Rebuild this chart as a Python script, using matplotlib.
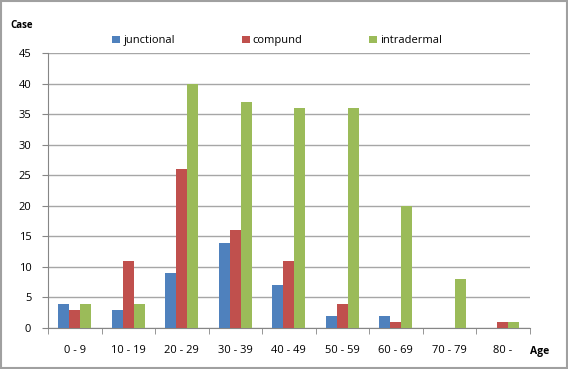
import matplotlib
matplotlib.use("Agg")
import matplotlib.pyplot as plt
import numpy as np

categories = ["0 - 9", "10 - 19", "20 - 29", "30 - 39", "40 - 49", "50 - 59", "60 - 69", "70 - 79", "80 -"]
junctional = [4, 3, 9, 14, 7, 2, 2, 0, 0]
compund = [3, 11, 26, 16, 11, 4, 1, 0, 1]
intradermal = [4, 4, 40, 37, 36, 36, 20, 8, 1]
series_names = ["junctional", "compund", "intradermal"]
colors = ["#4F81BD", "#C0504D", "#9BBB59"]

plt.rcParams['font.family'] = ['Open Sans', 'DejaVu Sans']

fig = plt.figure(figsize=(5.68, 3.69), dpi=100)
ax = fig.add_axes([0.0845, 0.111, 0.848, 0.745])

x = np.arange(len(categories))
w = 0.205
for i, (vals, name, c) in enumerate(zip([junctional, compund, intradermal], series_names, colors)):
    ax.bar(x + (i - 1) * w, vals, width=w, color=c, label=name, zorder=3)

ax.set_xlim(-0.5, len(categories) - 0.5)
ax.set_ylim(0, 45)
ax.set_yticks(np.arange(0, 46, 5))
ax.yaxis.grid(True, color="#A6A6A6", linewidth=1.0, zorder=0)
ax.set_axisbelow(True)
for s in ["top", "right"]:
    ax.spines[s].set_visible(False)
ax.spines["left"].set_color("#868686")
ax.spines["bottom"].set_color("#868686")
ax.set_xticks(x)
ax.set_xticklabels(categories, fontsize=8)
ax.set_xticks(np.arange(-0.5, len(categories), 1), minor=True)
ax.tick_params(axis="x", which="major", length=0, pad=12)
ax.tick_params(axis="x", which="minor", length=4, color="#868686")
ax.tick_params(axis="y", labelsize=8, length=4, color="#868686", pad=8)

fig.text(0.018, 0.925, "Case", fontsize=7, fontweight="bold")
fig.text(0.933, 0.04, "Age", fontsize=7.5, fontweight="bold")

leg = ax.legend(loc="lower left", bbox_to_anchor=(0.12, 1.0), ncol=3, frameon=False,
                fontsize=8, handlelength=0.7, handleheight=0.7, handletextpad=0.3,
                columnspacing=6.0, borderaxespad=0.2)

fig.patches.append(plt.Rectangle((0.002, 0.002), 0.996, 0.996, transform=fig.transFigure,
                                 fill=False, edgecolor="#A0A0A0", linewidth=1.5))
fig.savefig("out.png", dpi=100)
